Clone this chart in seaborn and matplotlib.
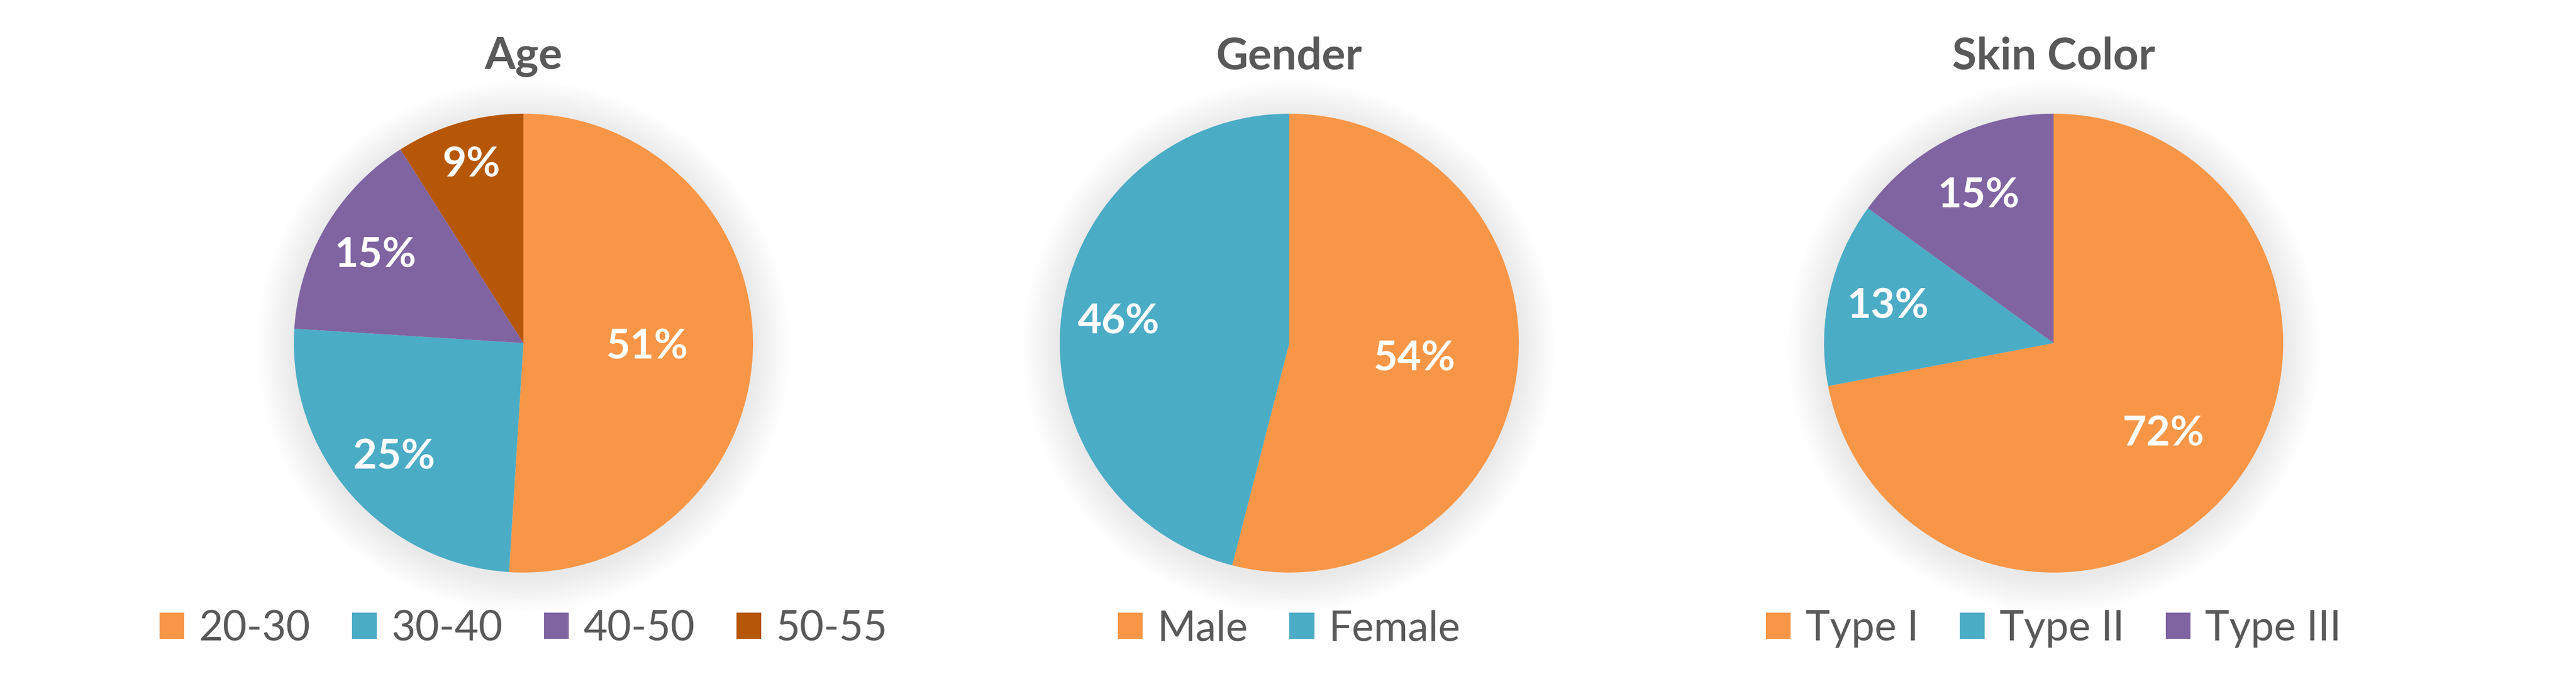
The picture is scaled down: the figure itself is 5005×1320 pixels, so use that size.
import matplotlib.pyplot as plt
from matplotlib.patches import Circle, Patch
import numpy as np
import seaborn as sns

sns.set_theme(style='white')
plt.rcParams['font.family'] = ['Lato', 'DejaVu Sans']

# data
age_labels = ['20-30', '30-40', '40-50', '50-55']
age_values = [51, 25, 15, 9]
gender_labels = ['Male', 'Female']
gender_values = [54, 46]
skin_labels = ['Type I', 'Type II', 'Type III']
skin_values = [72, 13, 15]
titles = ['Age', 'Gender', 'Skin Color']

palette = ['#F79646', '#4BACC6', '#8064A2', '#B65708']
text_grey = '#595959'

W, H = 5005, 1320
fig = plt.figure(figsize=(W / 100, H / 100), dpi=100)

# pie centres (px), radius (px)
centres = [1017, 2505, 3990]
cy = 667
R = 446
half = 1.2 * R

# where the % labels sit (fraction of radius), per wedge
label_r = [[0.54, 0.75, 0.75, 0.81],
           [0.55, 0.75],
           [0.62, 0.74, 0.72]]

panels = [(age_labels, age_values), (gender_labels, gender_values), (skin_labels, skin_values)]

for i, (labels, values) in enumerate(panels):
    cx = centres[i]
    ax = fig.add_axes([(cx - half) / W, (H - cy - half) / H, 2 * half / W, 2 * half / H])
    ax.set_aspect('equal')
    ax.axis('off')

    # soft shadow round the pie
    n = 22
    for k in range(n):
        rr = 1.0 + 0.16 * (k + 1) / n
        ax.add_patch(Circle((0, -0.015), rr, color='black', alpha=0.004, lw=0, zorder=0))

    cols = palette[:len(values)]
    wedges, _, autotexts = ax.pie(values, colors=cols, startangle=90, counterclock=False,
                                  autopct=lambda p: f'{p:.0f}%', radius=1.0,
                                  wedgeprops=dict(linewidth=0),
                                  textprops=dict(color='white', fontsize=58, fontweight='bold'))
    for w, t, r in zip(wedges, autotexts, label_r[i]):
        ang = np.deg2rad((w.theta1 + w.theta2) / 2)
        t.set_position((r * np.cos(ang), r * np.sin(ang)))
        t.set_ha('center')
        t.set_va('center')
    ax.set_xlim(-1.2, 1.2)
    ax.set_ylim(-1.2, 1.2)

    fig.text(cx / W, (H - 110) / H, titles[i], ha='center', va='center',
             fontsize=62, fontweight='bold', color=text_grey)

    handles = [Patch(facecolor=c, edgecolor='none') for c in cols]
    fig.legend(handles, labels, loc='center', bbox_to_anchor=(cx / W, (H - 1222) / H),
               ncol=len(labels), frameon=False, fontsize=58, labelcolor=text_grey,
               handlelength=0.6, handleheight=0.6, handletextpad=0.35,
               columnspacing=1.0, borderaxespad=0)

fig.savefig('out.png', dpi=100, facecolor='white')
